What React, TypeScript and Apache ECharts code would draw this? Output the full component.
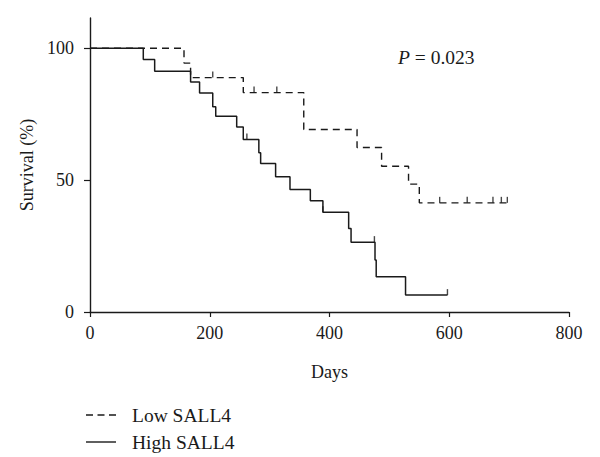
import React, { useEffect, useRef } from "react";
import * as echarts from "echarts";

const FONT = "Liberation Serif";

// Kaplan-Meier steps (day, survival %)
const highDays = [0, 89, 108, 168, 183, 205, 210, 245, 256, 282, 285, 310, 334, 368, 389, 432, 436, 476, 478, 527, 597];
const highSurv = [100, 95.8, 91.3, 87.2, 83.1, 77.8, 74.2, 70.2, 65.4, 60.4, 56.3, 51.3, 46.5, 42.2, 37.8, 31.7, 26.5, 19.7, 13.4, 6.4, 6.4];
const lowDays = [0, 157, 168, 256, 357, 446, 487, 532, 550, 697];
const lowSurv = [100, 94.4, 88.9, 83.2, 69.2, 62.4, 55.3, 48.5, 41.4, 41.4];

// censored observations
const highCensorDays = [262, 389, 475, 597];
const highCensorSurv = [65.4, 37.8, 26.5, 6.4];
const lowCensorDays = [205, 274, 312, 584, 630, 673, 687, 697];
const lowCensorSurv = [88.9, 83.2, 83.2, 41.4, 41.4, 41.4, 41.4, 41.4];

const xTicks = [0, 200, 400, 600, 800];
const yTicks = [0, 50, 100];
const seriesNames = ["Low SALL4", "High SALL4"];
const pValue = "0.023";

const zip = (a: number[], b: number[]) => a.map((v, i) => [v, b[i]]);

export default function App() {
  const ref = useRef<HTMLDivElement>(null);
  useEffect(() => {
    document.body.style.margin = "0";
    if (!ref.current) return;
    const chart = echarts.init(ref.current, undefined, { renderer: "svg" });
    const ink = "#1a1a1a";
    const FS = 18;
    const censor = (name: string, d: number[], s: number[]) => ({
      type: "scatter",
      name,
      data: zip(d, s),
      symbol: "rect",
      symbolSize: [1.4, 6],
      symbolOffset: [0, -3],
      itemStyle: { color: ink },
      silent: true,
      z: 3,
    });
    const legendItem = (i: number, y: number, dash: number[] | null) => ({
      type: "group",
      children: [
        {
          type: "line",
          shape: { x1: 86, y1: y, x2: 116, y2: y },
          style: { stroke: ink, lineWidth: 1.4, lineDash: dash || undefined },
        },
        {
          type: "text",
          x: 132,
          y,
          style: {
            text: seriesNames[i],
            verticalAlign: "middle",
            fill: ink,
            fontFamily: FONT,
            fontSize: 19.5,
          },
        },
      ],
    });
    chart.setOption({
      animation: false,
      backgroundColor: "#fff",
      textStyle: { fontFamily: FONT },
      grid: { left: 90, right: 31, top: 18, bottom: 145 },
      xAxis: {
        type: "value",
        min: 0,
        max: 800,
        interval: 200,
        name: "Days",
        nameLocation: "middle",
        nameGap: 51,
        nameTextStyle: { fontSize: FS, color: ink, fontFamily: FONT },
        axisLine: { lineStyle: { color: ink, width: 1.4 } },
        axisTick: { length: 5, lineStyle: { color: ink, width: 1.2 }, customValues: xTicks },
        axisLabel: { fontSize: FS, color: ink, margin: 12, fontFamily: FONT, customValues: xTicks },
        splitLine: { show: false },
      },
      yAxis: {
        type: "value",
        min: 0,
        max: 111.5,
        name: "Survival (%)",
        nameLocation: "middle",
        nameGap: 44,
        nameRotate: 90,
        nameTextStyle: { fontSize: FS, color: ink, fontFamily: FONT },
        axisLine: { show: true, lineStyle: { color: ink, width: 1.4 } },
        axisTick: { show: true, length: 6, lineStyle: { color: ink, width: 1.2 }, customValues: yTicks },
        axisLabel: { fontSize: FS, color: ink, margin: 16, fontFamily: FONT, customValues: yTicks },
        splitLine: { show: false },
      },
      graphic: [
        {
          type: "text",
          x: 398,
          y: 57,
          style: {
            text: "{i|P} = " + pValue,
            verticalAlign: "middle",
            fill: ink,
            fontFamily: FONT,
            fontSize: 19.5,
            rich: {
              i: { fontStyle: "italic", fontSize: 19.5, fontFamily: FONT, fill: ink },
            },
          },
        },
        legendItem(0, 415, [7, 4.5]),
        legendItem(1, 442, null),
      ],
      series: [
        {
          type: "line",
          name: seriesNames[0],
          data: zip(lowDays, lowSurv),
          step: "end",
          symbol: "none",
          showSymbol: false,
          itemStyle: { color: ink },
          lineStyle: { color: ink, width: 1.4, type: [7, 5] },
          z: 2,
        },
        {
          type: "line",
          name: seriesNames[1],
          data: zip(highDays, highSurv),
          step: "end",
          symbol: "none",
          showSymbol: false,
          itemStyle: { color: ink },
          lineStyle: { color: ink, width: 1.5, type: "solid" },
          z: 2,
        },
        censor("lowCensor", lowCensorDays, lowCensorSurv),
        censor("highCensor", highCensorDays, highCensorSurv),
      ],
    });
    return () => chart.dispose();
  }, []);
  return <div ref={ref} style={{ width: 600, height: 457 }} />;
}
